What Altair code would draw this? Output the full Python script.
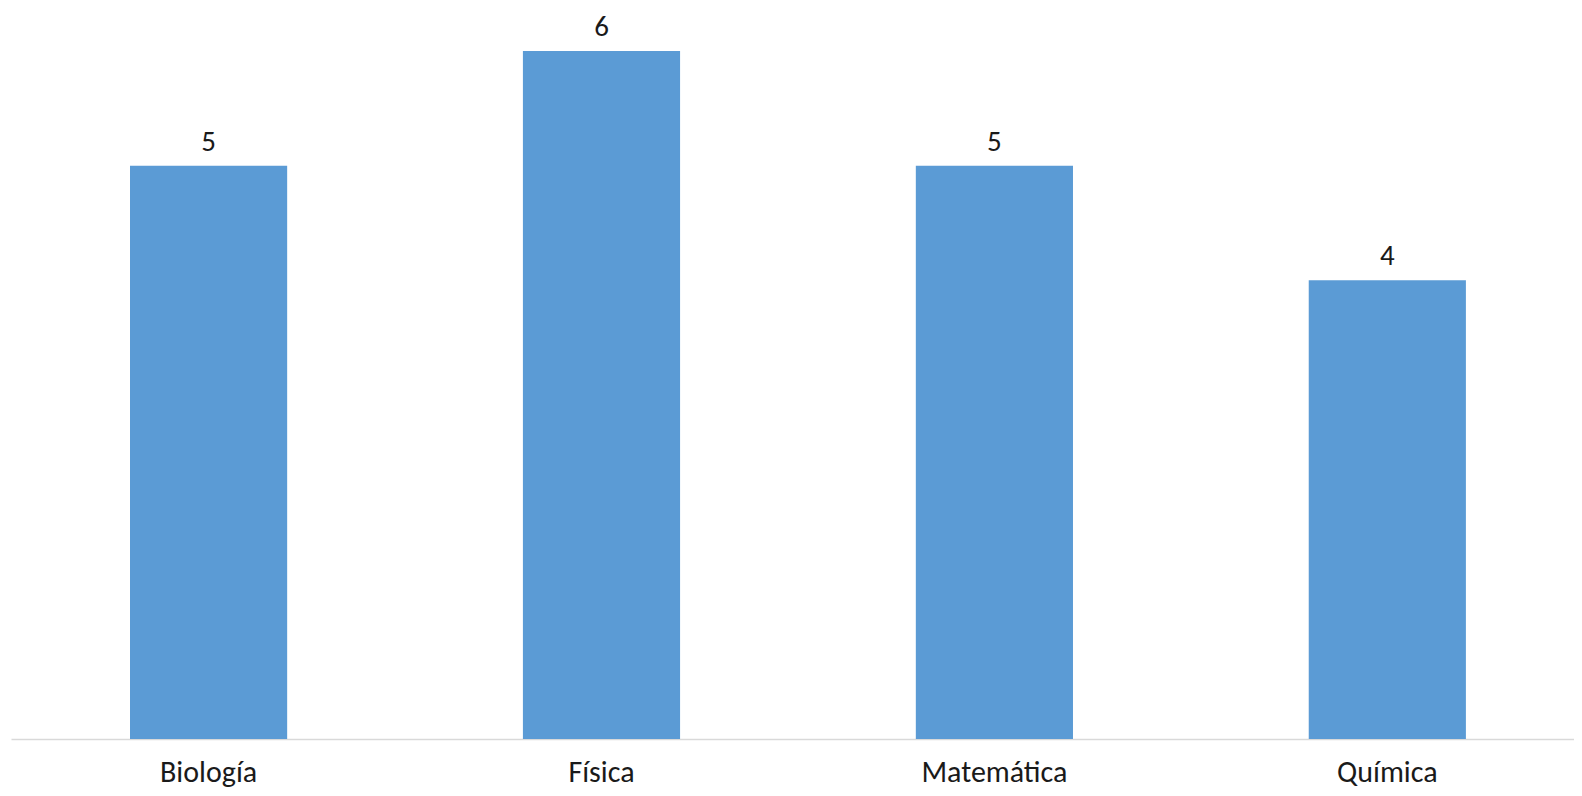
import altair as alt
import pandas as pd

categories = ["Biología", "Física", "Matemática", "Química"]
values = [5, 6, 5, 4]

df = pd.DataFrame({"materia": categories, "valor": values})

FONT = "Carlito, Lato, Open Sans, sans-serif"

base = alt.Chart(df).encode(
    x=alt.X(
        "materia:N",
        sort=categories,
        scale=alt.Scale(paddingInner=0.6, paddingOuter=0.289, align=0.524),
        axis=alt.Axis(
            title=None,
            labelAngle=0,
            ticks=False,
            domainColor="#D9D9D9",
            domainWidth=1.5,
            labelFont=FONT,
            labelFontSize=30,
            labelColor="#1a1a1a",
            labelBaseline="alphabetic",
            labelPadding=42,
            grid=False,
        ),
    ),
    y=alt.Y(
        "valor:Q",
        scale=alt.Scale(domain=[0, 6], nice=False, zero=True),
        axis=None,
    ),
)

bars = base.mark_bar(color="#5B9BD5")
labels = base.mark_text(
    baseline="alphabetic", dy=-15, font=FONT, fontSize=29, color="#1a1a1a"
).encode(text="valor:Q")

chart = (
    (bars + labels)
    .properties(
        width=1563,
        height=688,
        autosize=alt.AutoSizeParams(type="none"),
        padding={"left": 3, "top": 43, "right": 0, "bottom": 49},
    )
    .configure_view(stroke=None)
)

chart.save("out.html", embed_options={"renderer": "svg", "actions": False})
